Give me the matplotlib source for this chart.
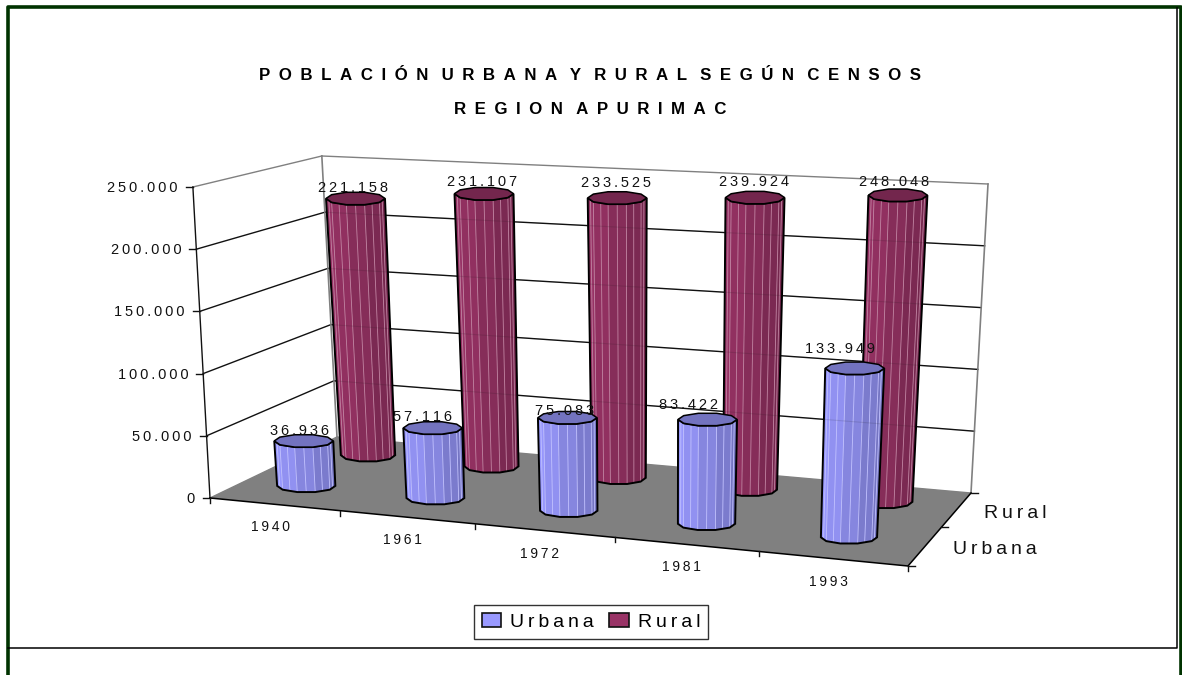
import numpy as np
import matplotlib
matplotlib.use("Agg")
import matplotlib.pyplot as plt
from matplotlib.patches import Patch, Polygon

plt.rcParams["font.family"] = ["Liberation Sans", "DejaVu Sans"]

years = ["1940", "1961", "1972", "1981", "1993"]
series_names = ["Urbana", "Rural"]
urbana = [36936, 57116, 75083, 83422, 133949]
rural = [221158, 231107, 233525, 239924, 248048]
value_ticks = [0, 50000, 100000, 150000, 200000, 250000]
value_labels = ["0", "50.000", "100.000", "150.000", "200.000", "250.000"]
value_max = 250000

title_lines = ["POBLACIÓN URBANA Y RURAL SEGÚN CENSOS", "REGION APURIMAC"]

# floor corners on the picture: front-left, front-right, back-right, back-left
FLOOR = [(210, 498), (908, 566), (971, 493), (337, 437)]
# wall height in pixels at those same corners
WALL_H = [311, 320, 309, 281]
# verticals lean away from this x
LEAN_X = 651
LEAN = 0.000172
# half width of a column at its top, half height of its ring
COL_RX = 29.5
COL_RY = 6.5

URBAN_BLUE = "#9999ff"
RURAL_RED = "#993366"


def homography(corners):
    src = [(0, 0), (1, 0), (1, 1), (0, 1)]
    rows = []
    rhs = []
    for (a, b), (x, y) in zip(src, corners):
        rows.append([a, b, 1, 0, 0, 0, -a * x, -b * x])
        rows.append([0, 0, 0, a, b, 1, -a * y, -b * y])
        rhs += [x, y]
    h = np.linalg.solve(np.array(rows, float), np.array(rhs, float))
    return np.append(h, 1).reshape(3, 3)


H_FLOOR = homography(FLOOR)


def project(u, w, value):
    # u along the years, w into the depth, both 0..1
    p = H_FLOOR @ np.array([u, w, 1.0])
    fx, fy = p[:2] / p[2]
    h = ((1 - u) * (1 - w) * WALL_H[0] + u * (1 - w) * WALL_H[1]
         + u * w * WALL_H[2] + (1 - u) * w * WALL_H[3])
    h = h * value / value_max
    lean = np.clip((fx - LEAN_X) * LEAN, -0.055, 0.055)
    return np.array([fx + lean * h, fy - h])


def shade(color, k):
    rgb = np.array(matplotlib.colors.to_rgb(color))
    if k < 1:
        return tuple(rgb * k)
    return tuple(rgb + (1 - rgb) * (k - 1))


def spaced(text, sep="\u2009"):
    words = [sep.join(word) for word in text.split(" ")]
    return (" " + sep).join(words)


def column_center(i, depth):
    shift = -0.006 if depth == 0 else -0.004
    return (i + 0.5) / len(years) + shift, (depth + 0.5) / len(series_names) + 0.02


def ring(center, rx, n):
    # rings stay level on the picture, the box skew does not shear them
    ang = np.linspace(0, 2 * np.pi, n, endpoint=False)
    return np.column_stack([center[0] + rx * np.cos(ang), center[1] - COL_RY * np.sin(ang)])


def draw_cylinder(ax, i, depth, value, color, zorder):
    n = 10
    cu, cw = column_center(i, depth)
    bottom = ring(project(cu, cw, 0), COL_RX * (1 - 0.09 * value / value_max), n)
    top = ring(project(cu, cw, value), COL_RX, n)

    # front half of the ring, left to right
    idx = [5, 6, 7, 8, 9, 0]
    left, right = idx[0], idx[-1]

    # facets from light on the left to dark on the right
    x_span = top[right, 0] - top[left, 0]
    for a, b in zip(idx[:-1], idx[1:]):
        mid = ((top[a, 0] + top[b, 0]) / 2 - top[left, 0]) / x_span
        k = 1.0 - 0.25 * mid
        quad = [top[a], top[b], bottom[b], bottom[a]]
        ax.add_patch(Polygon(quad, closed=True, fc=shade(color, k), ec=shade(color, k), lw=0.3, zorder=zorder))
    # pale seams, doubled up with mid-facet ones
    for a, b in zip(idx[:-1], idx[1:]):
        for t in (0.0, 0.5):
            s0 = top[a] + (top[b] - top[a]) * t
            s1 = bottom[a] + (bottom[b] - bottom[a]) * t
            ax.plot([s0[0], s1[0]], [s0[1], s1[1]], color=shade(color, 1.4), lw=0.6,
                    solid_capstyle="butt", zorder=zorder + 0.01)
    sil = [top[q] for q in idx] + [bottom[q] for q in idx[::-1]]
    ax.add_patch(Polygon(sil, closed=True, fc="none", ec="black", lw=1.4, zorder=zorder + 0.02))
    ax.add_patch(Polygon(top, closed=True, fc=shade(color, 0.75), ec="black", lw=1.1, zorder=zorder + 0.03))


fig = plt.figure(figsize=(11.82, 6.75), dpi=100, facecolor="white")
ax = fig.add_axes([0, 0, 1, 1])
ax.set_xlim(0, 1182)
ax.set_ylim(675, 0)
ax.axis("off")

# frame of the sheet
ax.plot([7.5, 7.5, 1180.5, 1180.5], [675, 7, 7, 675], color="#003300", lw=2.6, zorder=1)
ax.plot([8, 1177, 1177], [647.5, 647.5, 8], color="black", lw=1.1, zorder=1)

# floor
floor = [project(0, 0, 0), project(1, 0, 0), project(1, 1, 0), project(0, 1, 0)]
ax.add_patch(Polygon(floor, closed=True, fc="#808080", ec="none", zorder=2))

# gridlines on both walls
for v in value_ticks:
    a, b, c = project(0, 0, v), project(0, 1, v), project(1, 1, v)
    col = "#808080" if v in (0, value_max) else "#111111"
    ax.plot([a[0], b[0]], [a[1], b[1]], color=col, lw=1.0, zorder=2.5)
    ax.plot([b[0], c[0]], [b[1], c[1]], color=col, lw=1.0, zorder=2.5)
    if v not in (0, value_max):
        # they show faintly through the columns
        ax.plot([b[0], c[0]], [b[1], c[1]], color="#111111", lw=0.8, alpha=0.12, zorder=7.5)
for u in (0, 1):
    a, b = project(u, 1, 0), project(u, 1, value_max)
    ax.plot([a[0], b[0]], [a[1], b[1]], color="#808080", lw=1.2, zorder=2.5)

# value axis
a, b = project(0, 0, 0), project(0, 0, value_max)
ax.plot([a[0], b[0]], [a[1], b[1]], color="#111111", lw=1.0, zorder=3)
for v, lab in zip(value_ticks, value_labels):
    p = project(0, 0, v)
    ax.plot([p[0] - 7, p[0]], [p[1], p[1]], color="#111111", lw=1.0, zorder=3)
    ax.text(p[0] - 15, p[1] + 1, spaced(lab), ha="right", va="center", fontsize=10.5, color="#111111")

# front and side edges with their ticks
a, b, c = project(0, 0, 0), project(1, 0, 0), project(1, 1, 0)
ax.plot([a[0], b[0], c[0]], [a[1], b[1], c[1]], color="black", lw=1.1, zorder=3)
for i in range(len(years) + 1):
    p = project(i / len(years), 0, 0)
    ax.plot([p[0], p[0]], [p[1], p[1] + 5], color="#111111", lw=1.0, zorder=3)
for w in (0, 0.5, 1):
    p = project(1, w, 0)
    ax.plot([p[0], p[0] + 7], [p[1], p[1]], color="#111111", lw=1.0, zorder=3)

for i, yr in enumerate(years):
    p = project((i + 0.5) / len(years), 0, 0)
    ax.text(p[0] - 4.5, p[1] + 23, spaced(yr), ha="center", va="center", fontsize=10, color="#111111")

for depth, name in enumerate(series_names):
    p = project(1, (depth + 0.5) / len(series_names), 0)
    ax.text(p[0] + 27.5, p[1] + 3.5, spaced(name), ha="left", va="center", fontsize=14, color="#111111")

# columns, back row first, from the left
label_offsets = {
    0: [(-4, -10), (-10, -11), (-3, -7), (-19, -14), (-15, -19)],
    1: [(-3, -10), (-2, -12), (-1, -15), (-1, -16), (-4, -13)],
}
for depth, values in [(1, rural), (0, urbana)]:
    z = 4 if depth == 1 else 6
    col = RURAL_RED if depth == 1 else URBAN_BLUE
    for i, val in enumerate(values):
        draw_cylinder(ax, i, depth, val, col, z + i * 0.1)
        cu, cw = column_center(i, depth)
        p = project(cu, cw, val)
        off = label_offsets[depth][i]
        txt = f"{val:,}".replace(",", ".")
        ax.text(p[0] + off[0], p[1] + off[1], spaced(txt), ha="center", va="center",
                fontsize=10.5, color="#111111", zorder=8)

# title
for line, y in zip(title_lines, [76, 110]):
    ax.text(590, y, spaced(line, "\u2002"), ha="center", va="center", fontsize=12.2, fontweight="bold", color="black")

handles = [Patch(fc=URBAN_BLUE, ec="#111111", lw=1.2), Patch(fc=RURAL_RED, ec="#111111", lw=1.2)]
leg = ax.legend(handles, [spaced(n) for n in series_names], ncol=2, loc="center",
                bbox_to_anchor=(591, 622), bbox_transform=ax.transData, fontsize=14,
                fancybox=False, framealpha=1, edgecolor="#333333", borderpad=0.4,
                handlelength=1.0, handleheight=0.7, handletextpad=0.46, columnspacing=0.77)
leg.get_frame().set_linewidth(1.0)

fig.savefig("out.png", dpi=100)
